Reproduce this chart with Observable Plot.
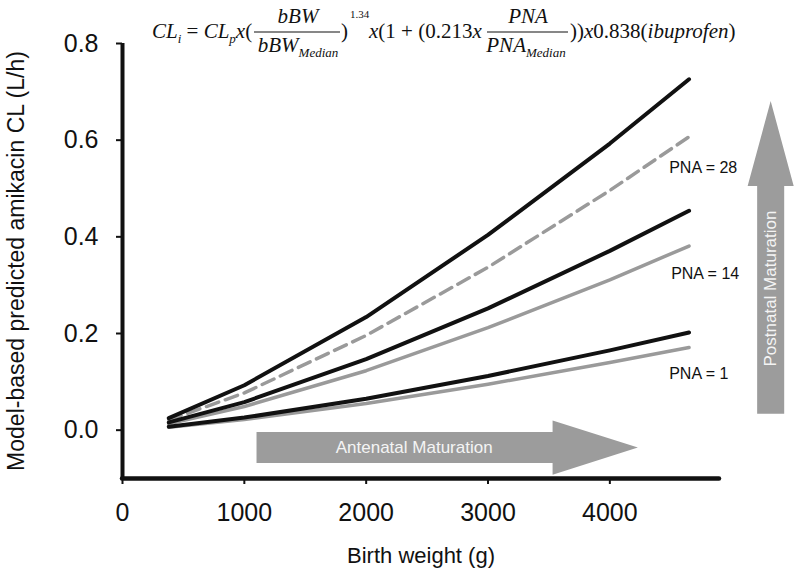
<!DOCTYPE html>
<html>
<head>
<meta charset="utf-8">
<script src="https://cdn.jsdelivr.net/npm/d3@7"></script>
<script src="https://cdn.jsdelivr.net/npm/@observablehq/plot@0.6"></script>
<style>
  html, body { margin: 0; padding: 0; background: #fff; }
  #chart svg { display: block; }
</style>
</head>
<body>
<div id="chart"></div>
<script>
// ---- data ----
const birthWeight = [380, 1000, 2000, 3000, 4000, 4650];           // g
const pna28NoIbuprofen = [0.025, 0.093, 0.234, 0.404, 0.593, 0.726]; // L/h
const pna28Ibuprofen   = [0.021, 0.077, 0.196, 0.337, 0.496, 0.607];
const pna14NoIbuprofen = [0.016, 0.058, 0.147, 0.252, 0.371, 0.454];
const pna14Ibuprofen   = [0.013, 0.049, 0.123, 0.212, 0.311, 0.381];
const pna1NoIbuprofen  = [0.007, 0.026, 0.065, 0.112, 0.165, 0.202];
const pna1Ibuprofen    = [0.006, 0.022, 0.055, 0.095, 0.140, 0.171];

const xTicks = [0, 1000, 2000, 3000, 4000];
const yTicks = [0.0, 0.2, 0.4, 0.6, 0.8];

const pnaLabels = ["PNA = 28", "PNA = 14", "PNA = 1"];
const pnaLabelX = [4487, 4503, 4487];
const pnaLabelY = [0.543, 0.323, 0.117];

const xLabel = "Birth weight (g)";
const yLabel = "Model-based predicted amikacin CL (L/h)";

// annotation arrows (data space)
const antenatal = {text: "Antenatal Maturation", x1: 1100, headStart: 3530, x2: 4230, y: -0.036, shaftHalf: 0.032, headHalf: 0.056, textX: 2394};
const postnatal = {text: "Postnatal Maturation", x: 5320, y1: 0.034, headStart: 0.505, y2: 0.681, shaftHalf: 111, headHalf: 189, textY: 0.293};

// ---- build tables ----
const series = [
  {key: "pna28", ibuprofen: false, values: pna28NoIbuprofen},
  {key: "pna28", ibuprofen: true,  values: pna28Ibuprofen},
  {key: "pna14", ibuprofen: false, values: pna14NoIbuprofen},
  {key: "pna14", ibuprofen: true,  values: pna14Ibuprofen},
  {key: "pna1",  ibuprofen: false, values: pna1NoIbuprofen},
  {key: "pna1",  ibuprofen: true,  values: pna1Ibuprofen}
];
const rows = series.flatMap(s => birthWeight.map((bw, i) => ({series: s.key + (s.ibuprofen ? "-ibu" : ""), key: s.key, ibuprofen: s.ibuprofen, bw, cl: s.values[i]})));
const blackRows = rows.filter(d => !d.ibuprofen);
const grayRows = rows.filter(d => d.ibuprofen && d.key !== "pna28");
const dashedRows = rows.filter(d => d.ibuprofen && d.key === "pna28");

const labels = pnaLabels.map((t, i) => ({text: t, x: pnaLabelX[i], y: pnaLabelY[i]}));

const a = antenatal;
const antenatalPoly = [
  [a.x1, a.y + a.shaftHalf], [a.headStart, a.y + a.shaftHalf], [a.headStart, a.y + a.headHalf],
  [a.x2, a.y], [a.headStart, a.y - a.headHalf], [a.headStart, a.y - a.shaftHalf], [a.x1, a.y - a.shaftHalf]
].map(([x, y]) => ({x, y}));
const p = postnatal;
const postnatalPoly = [
  [p.x - p.shaftHalf, p.y1], [p.x - p.shaftHalf, p.headStart], [p.x - p.headHalf, p.headStart],
  [p.x, p.y2], [p.x + p.headHalf, p.headStart], [p.x + p.shaftHalf, p.headStart], [p.x + p.shaftHalf, p.y1]
].map(([x, y]) => ({x, y}));

const BLACK = "#111";
const GRAY = "#9a9a9a";
const ARROW = "#9c9c9c";

const chart = Plot.plot({
  width: 800,
  height: 581,
  marginLeft: 122,
  marginRight: 81,
  marginTop: 43,
  marginBottom: 103,
  style: {fontFamily: "'Liberation Sans', Arial, Helvetica, sans-serif", color: BLACK, background: "#fff"},
  x: {domain: [0, 4900]},
  y: {domain: [-0.1, 0.8]},
  marks: [
    // arrows
    Plot.line(antenatalPoly, {x: "x", y: "y", fill: ARROW, stroke: "none"}),
    Plot.line(postnatalPoly, {x: "x", y: "y", fill: ARROW, stroke: "none"}),
    Plot.text([a.text], {x: a.textX, y: a.y, text: d => d, fill: "#f4f4f4", fontSize: 17}),
    Plot.text([p.text], {x: p.x, y: p.textY, text: d => d, fill: "#f4f4f4", fontSize: 17, rotate: -90}),
    // curves
    Plot.line(grayRows, {x: "bw", y: "cl", z: "series", stroke: GRAY, strokeWidth: 3.5}),
    Plot.line(dashedRows, {x: "bw", y: "cl", z: "series", stroke: GRAY, strokeWidth: 3.5, strokeDasharray: "13,7"}),
    Plot.line(blackRows, {x: "bw", y: "cl", z: "series", stroke: BLACK, strokeWidth: 4}),
    // PNA labels
    Plot.text(labels, {x: "x", y: "y", text: "text", textAnchor: "start", fontSize: 16, fill: BLACK}),
    // axes
    Plot.axisX({ticks: xTicks, tickFormat: d => String(d), tickSize: 6, tickPadding: 19, fontSize: 25, strokeWidth: 2, label: null}),
    Plot.axisY({ticks: yTicks, tickFormat: d3.format(".1f"), tickSize: 6, tickPadding: 18, fontSize: 25, strokeWidth: 2, label: null}),
    Plot.ruleX([0], {y1: -0.1, y2: 0.8, stroke: BLACK, strokeWidth: 4}),
    Plot.ruleY([-0.1], {x1: 0, x2: 4900, stroke: BLACK, strokeWidth: 4.5, strokeLinecap: "round"}),
    // axis titles
    Plot.text([yLabel], {text: d => d, frameAnchor: "left", dx: -106, rotate: -90, textAnchor: "middle", lineAnchor: "middle", fontSize: 23, fill: BLACK}),
    Plot.text([xLabel], {text: d => d, frameAnchor: "bottom", dy: 77, textAnchor: "middle", lineAnchor: "middle", fontSize: 22, fill: BLACK})
  ]
});

// ---- formula annotation ----
(function addFormula(svg) {
  const g = d3.select(svg).append("g")
    .attr("font-family", "'Liberation Serif', 'Times New Roman', serif")
    .attr("font-size", 21)
    .attr("fill", BLACK);
  function piece(x, y, parts, anchor) {
    const t = g.append("text").attr("x", x).attr("y", y).attr("text-anchor", anchor || "start");
    let shift = 0;
    parts.forEach(([txt, kind]) => {
      const s = t.append("tspan").text(txt);
      if (kind === "i" || kind === "sub") s.attr("font-style", "italic");
      if (kind === "sub") { s.attr("font-size", 13).attr("dy", 5 - shift); shift = 5; }
      else if (kind === "sup") { s.attr("font-size", 11).attr("dy", -20 - shift).attr("dx", 2); shift = -20; }
      else if (shift !== 0) { s.attr("dy", -shift); shift = 0; }
    });
    return t;
  }
  piece(152, 38, [["CL", "i"], ["i", "sub"], [" = ", ""], ["CL", "i"], ["p", "sub"], ["x", "i"], ["(", ""]]);
  g.append("line").attr("x1", 254).attr("x2", 340).attr("y1", 32).attr("y2", 32).attr("stroke", BLACK).attr("stroke-width", 1.2);
  piece(298, 23, [["bBW", "i"]], "middle");
  piece(298, 52, [["bBW", "i"], ["Median", "sub"]], "middle");
  piece(341, 38, [[")", ""], ["1.34", "sup"]]);
  piece(369, 38, [["x", "i"], ["(1 + (0.213", ""], ["x", "i"]]);
  g.append("line").attr("x1", 487).attr("x2", 568).attr("y1", 32).attr("y2", 32).attr("stroke", BLACK).attr("stroke-width", 1.2);
  piece(528, 23, [["PNA", "i"]], "middle");
  piece(526, 52, [["PNA", "i"], ["Median", "sub"]], "middle");
  piece(570, 38, [["))", ""], ["x", "i"], ["0.838(", ""], ["ibuprofen", "i"], [")", ""]]);
})(chart);

document.getElementById("chart").appendChild(chart);
</script>
</body>
</html>
